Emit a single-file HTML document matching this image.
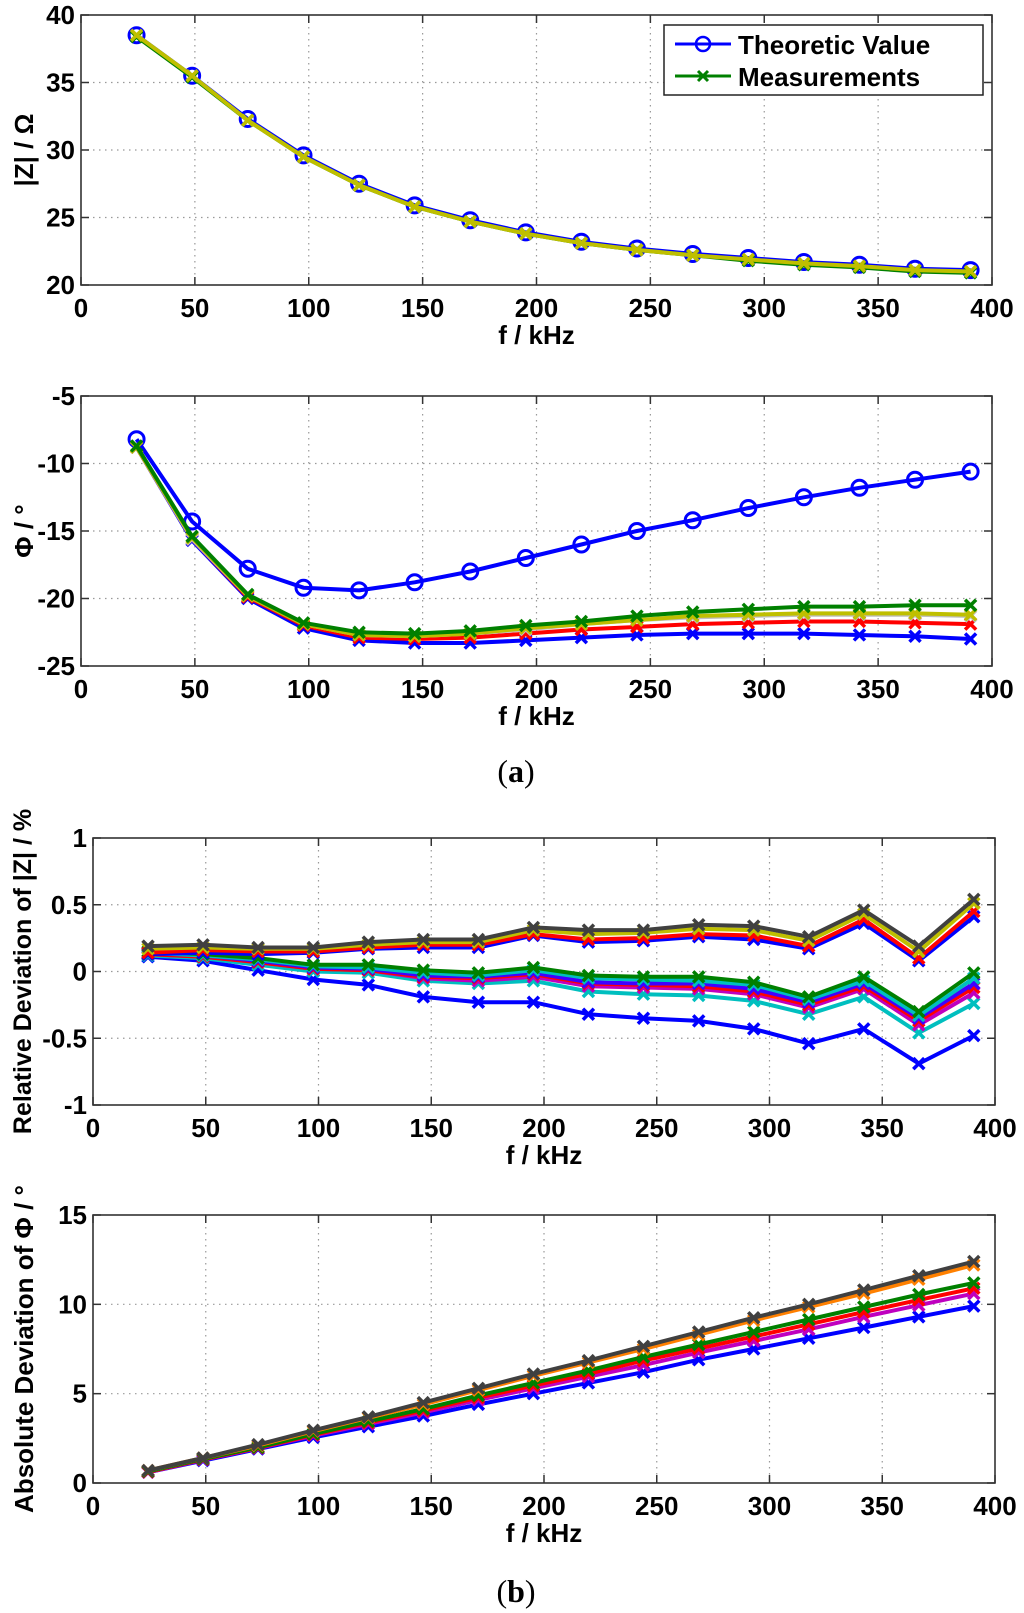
<!DOCTYPE html>
<html><head><meta charset="utf-8"><style>
html,body{margin:0;padding:0;background:#fff}
svg{display:block}
text{font-family:"Liberation Sans",Arial,sans-serif;font-weight:bold;fill:#000}
</style></head><body>
<svg id="fig" width="1024" height="1613" viewBox="0 0 1024 1613" xmlns="http://www.w3.org/2000/svg"></svg>
<script>
const freqs=[24.4,48.8,73.2,97.7,122.1,146.5,170.9,195.3,219.7,244.1,268.6,293.0,317.4,341.8,366.2,390.6];
const xTicks=[0,50,100,150,200,250,300,350,400];
const zTheo=[38.5,35.5,32.3,29.6,27.5,25.9,24.8,23.9,23.2,22.7,22.3,22.0,21.7,21.5,21.2,21.1];
const zMeasA=[38.5,35.5,32.2,29.5,27.4,25.8,24.7,23.8,23.1,22.6,22.2,21.9,21.6,21.4,21.1,21.0];
const zMeasB=[38.4,35.4,32.2,29.5,27.4,25.8,24.7,23.8,23.1,22.6,22.2,21.8,21.5,21.3,21.0,20.9];
const zTicks=[20,25,30,35,40];
const phTheo=[-8.2,-14.3,-17.8,-19.2,-19.4,-18.8,-18.0,-17.0,-16.0,-15.0,-14.2,-13.3,-12.5,-11.8,-11.2,-10.6];
const phBlue=[-8.8,-15.7,-20.0,-22.2,-23.1,-23.3,-23.3,-23.1,-22.9,-22.7,-22.6,-22.6,-22.6,-22.7,-22.8,-23.0];
const phRed=[-8.8,-15.6,-19.9,-22.0,-22.9,-23.0,-22.9,-22.6,-22.3,-22.1,-21.9,-21.8,-21.7,-21.7,-21.8,-21.9];
const phGray=[-8.8,-15.6,-19.8,-21.9,-22.7,-22.8,-22.6,-22.3,-21.9,-21.6,-21.4,-21.3,-21.2,-21.2,-21.2,-21.3];
const phGreen=[-8.7,-15.4,-19.7,-21.8,-22.5,-22.6,-22.4,-22.0,-21.7,-21.3,-21.0,-20.8,-20.6,-20.6,-20.5,-20.5];
const phYellow=[-8.8,-15.5,-19.8,-21.9,-22.7,-22.8,-22.6,-22.2,-21.9,-21.6,-21.3,-21.2,-21.1,-21.1,-21.1,-21.2];
const phTicks=[-25,-20,-15,-10,-5];
const rdBlack=[0.19,0.20,0.18,0.18,0.22,0.24,0.24,0.33,0.31,0.31,0.35,0.34,0.26,0.46,0.19,0.54];
const rdYellow=[0.17,0.18,0.17,0.17,0.20,0.22,0.22,0.31,0.28,0.29,0.32,0.31,0.23,0.43,0.15,0.51];
const rdRed=[0.14,0.16,0.15,0.15,0.18,0.20,0.20,0.28,0.24,0.25,0.28,0.27,0.19,0.39,0.10,0.45];
const rdBlue=[0.13,0.14,0.13,0.14,0.17,0.18,0.18,0.27,0.22,0.23,0.26,0.24,0.17,0.36,0.08,0.41];
const rdGreen=[0.15,0.13,0.10,0.05,0.05,0.01,-0.01,0.03,-0.03,-0.04,-0.04,-0.08,-0.19,-0.04,-0.30,-0.01];
const rdCyan2=[0.14,0.12,0.09,0.04,0.03,-0.01,-0.03,0.01,-0.05,-0.06,-0.07,-0.10,-0.21,-0.07,-0.33,-0.05];
const rdPurple=[0.14,0.12,0.08,0.03,0.02,-0.03,-0.04,-0.01,-0.08,-0.09,-0.09,-0.13,-0.23,-0.09,-0.35,-0.09];
const rdRed2=[0.13,0.11,0.07,0.02,0.01,-0.04,-0.05,-0.02,-0.09,-0.10,-0.11,-0.15,-0.25,-0.11,-0.37,-0.12];
const rdMagenta=[0.13,0.11,0.07,0.02,0.01,-0.05,-0.07,-0.04,-0.11,-0.12,-0.13,-0.17,-0.27,-0.13,-0.40,-0.16];
const rdCyan=[0.12,0.10,0.05,0.00,-0.01,-0.07,-0.09,-0.07,-0.15,-0.17,-0.18,-0.22,-0.32,-0.19,-0.46,-0.24];
const rdLow=[0.11,0.08,0.01,-0.06,-0.10,-0.19,-0.23,-0.23,-0.32,-0.35,-0.37,-0.43,-0.54,-0.43,-0.69,-0.48];
const rdTicks=[-1,-0.5,0,0.5,1];
const adBlack=[0.7,1.4,2.15,2.95,3.7,4.5,5.3,6.1,6.85,7.65,8.45,9.25,10.0,10.8,11.6,12.4];
const adOrange=[0.7,1.4,2.1,2.9,3.65,4.4,5.2,6.0,6.75,7.5,8.3,9.1,9.85,10.6,11.4,12.2];
const adGreen=[0.65,1.35,2.0,2.75,3.45,4.15,4.9,5.6,6.3,7.05,7.75,8.45,9.15,9.85,10.55,11.2];
const adRed=[0.62,1.32,1.97,2.7,3.38,4.05,4.78,5.45,6.12,6.85,7.53,8.2,8.88,9.57,10.25,10.9];
const adMagenta=[0.6,1.3,1.95,2.65,3.3,3.95,4.65,5.3,5.95,6.6,7.3,7.95,8.6,9.3,9.95,10.6];
const adBlue=[0.6,1.25,1.9,2.55,3.15,3.75,4.4,5.0,5.6,6.2,6.9,7.5,8.1,8.7,9.3,9.9];
const adTicks=[0,5,10,15];

const NS="http://www.w3.org/2000/svg";
const svg=document.getElementById('fig');
function mk(tag,attrs,parent){const e=document.createElementNS(NS,tag);for(const k in attrs)e.setAttribute(k,attrs[k]);(parent||svg).appendChild(e);return e;}
function txt(s,x,y,size,anchor,parent,rot){const t=mk('text',{x:x,y:y,'font-size':size,'text-anchor':anchor||'middle'},parent);if(rot)t.setAttribute('transform','rotate(-90 '+x+' '+y+')');t.textContent=s;return t;}

function plot(o){
  const g=mk('g',{});
  
  
  const X=v=>o.x0+(v-0)/(400)*(o.x1-o.x0);
  const Y=v=>o.yb+(v-o.ymin)/(o.ymax-o.ymin)*(o.yt-o.yb);
  xTicks.forEach(t=>{if(t>0&&t<400)mk('line',{x1:X(t),x2:X(t),y1:o.yt,y2:o.yb,stroke:'#999','stroke-dasharray':'1.5 4.5','stroke-width':1.2},g);});
  o.yTicks.forEach(t=>{if(t>o.ymin&&t<o.ymax)mk('line',{x1:o.x0,x2:o.x1,y1:Y(t),y2:Y(t),stroke:'#999','stroke-dasharray':'1.5 4.5','stroke-width':1.2},g);});
  xTicks.forEach(t=>{mk('line',{x1:X(t),x2:X(t),y1:o.yb,y2:o.yb-8,stroke:'#333','stroke-width':1.5},g);mk('line',{x1:X(t),x2:X(t),y1:o.yt,y2:o.yt+8,stroke:'#333','stroke-width':1.5},g);
    const l=txt(String(t),X(t),o.yb+32,26,'middle',g);});
  o.yTicks.forEach(t=>{mk('line',{x1:o.x0,x2:o.x0+8,y1:Y(t),y2:Y(t),stroke:'#333','stroke-width':1.5},g);mk('line',{x1:o.x1,x2:o.x1-8,y1:Y(t),y2:Y(t),stroke:'#333','stroke-width':1.5},g);
    const l=txt(String(t),o.x0-6,Y(t)+9,26,'end',g);});
  const box=mk('rect',{x:o.x0,y:o.yt,width:o.x1-o.x0,height:o.yb-o.yt,fill:'none',stroke:'#333','stroke-width':1.6},g);
  
  
  o.series.forEach(s=>{
    const sg=mk('g',{},g);
    
    
    const pts=s.data.map((v,i)=>X(freqs[i]).toFixed(1)+','+Y(v).toFixed(1)).join(' ');
    mk('polyline',{points:pts,fill:'none',stroke:s.color,'stroke-width':s.w||4,'stroke-linejoin':'round'},sg);
    s.data.forEach((v,i)=>{const cx=X(freqs[i]),cy=Y(v);
      if(s.marker==='o')mk('circle',{cx:cx,cy:cy,r:7.5,fill:'none',stroke:s.color,'stroke-width':3},sg);
      else{const d=5.5;mk('path',{d:`M${cx-d},${cy-d}L${cx+d},${cy+d}M${cx-d},${cy+d}L${cx+d},${cy-d}`,stroke:s.color,'stroke-width':3.5},sg);}
    });
  });
  const xl=txt('f / kHz',(o.x0+o.x1)/2,o.yb+59,26,'middle',g);
  
  
  const yl=txt(o.ylabel,o.ylx,(o.yt+o.yb)/2,o.ylsize||26,'middle',g,true);
  
  
  return g;
}

plot({name:'impedance-magnitude-chart',x0:81,x1:992,yt:15,yb:285,ymin:20,ymax:40,yTicks:zTicks,ylabel:'|Z| / Ω',ylx:33,
 series:[{name:'theoretic-series',data:zTheo,color:'#0000ff',marker:'o'},
 {name:'measurement-green',data:zMeasB,color:'#008000',marker:'x'},
 {name:'measurement-yellow',data:zMeasA,color:'#bfbf00',marker:'x'}]});
plot({name:'phase-chart',x0:81,x1:992,yt:396,yb:666,ymin:-25,ymax:-5,yTicks:phTicks,ylabel:'Φ / °',ylx:33,
 series:[{name:'theoretic-series',data:phTheo,color:'#0000ff',marker:'o'},
 {name:'measurement-blue',data:phBlue,color:'#0000ff',marker:'x'},
 {name:'measurement-red',data:phRed,color:'#ff0000',marker:'x'},
 {name:'measurement-gray',data:phGray,color:'#bfbfbf',marker:'x'},
 {name:'measurement-yellow',data:phYellow,color:'#bfbf00',marker:'x'},
 {name:'measurement-green',data:phGreen,color:'#008000',marker:'x'}]});
plot({name:'relative-deviation-chart',x0:93,x1:995,yt:838,yb:1105,ymin:-1,ymax:1,yTicks:rdTicks,ylabel:'Relative Deviation of |Z| / %',ylx:31,ylsize:25,
 series:[{name:'rel-low-blue',data:rdLow,color:'#0000ff',marker:'x'},
 {name:'rel-cyan',data:rdCyan,color:'#00bfbf',marker:'x'},
 {name:'rel-magenta',data:rdMagenta,color:'#bf00bf',marker:'x'},
 {name:'rel-red-2',data:rdRed2,color:'#ff0000',marker:'x'},
 {name:'rel-purple',data:rdPurple,color:'#4000ff',marker:'x'},
 {name:'rel-cyan-2',data:rdCyan2,color:'#00bfbf',marker:'x'},
 {name:'rel-green',data:rdGreen,color:'#008000',marker:'x'},
 {name:'rel-blue',data:rdBlue,color:'#0000ff',marker:'x'},
 {name:'rel-red',data:rdRed,color:'#ff0000',marker:'x'},
 {name:'rel-yellow',data:rdYellow,color:'#bfbf00',marker:'x'},
 {name:'rel-black',data:rdBlack,color:'#404040',marker:'x'}]});
plot({name:'absolute-deviation-chart',x0:93,x1:995,yt:1215,yb:1483,ymin:0,ymax:15,yTicks:adTicks,ylabel:'Absolute Deviation of Φ / °',ylx:33,
 series:[{name:'abs-blue',data:adBlue,color:'#0000ff',marker:'x'},
 {name:'abs-magenta',data:adMagenta,color:'#bf00bf',marker:'x'},
 {name:'abs-red',data:adRed,color:'#ff0000',marker:'x'},
 {name:'abs-green',data:adGreen,color:'#008000',marker:'x'},
 {name:'abs-orange',data:adOrange,color:'#ff8000',marker:'x'},
 {name:'abs-black',data:adBlack,color:'#404040',marker:'x'}]});

const lg=mk('g',{});


mk('rect',{x:664,y:25,width:319,height:70,fill:'#fff',stroke:'#222','stroke-width':1.5},lg);
mk('line',{x1:675,x2:731,y1:44,y2:44,stroke:'#0000ff','stroke-width':3},lg);
mk('circle',{cx:703,cy:44,r:7,fill:'none',stroke:'#0000ff','stroke-width':2.5},lg);
mk('line',{x1:675,x2:731,y1:76,y2:76,stroke:'#008000','stroke-width':3},lg);
mk('path',{d:'M698,71L708,81M698,81L708,71',stroke:'#008000','stroke-width':3},lg);
const l1=txt('Theoretic Value',738,54,26,'start',lg);


const l2=txt('Measurements',738,86,26,'start',lg);



const ca=mk('text',{x:516,y:782,'font-size':32,'text-anchor':'middle'});


ca.style.fontFamily='"Liberation Serif",serif';ca.style.fontWeight='normal';
ca.innerHTML='(<tspan font-weight="bold">a</tspan>)';
const cb=mk('text',{x:516,y:1602,'font-size':32,'text-anchor':'middle'});


cb.style.fontFamily='"Liberation Serif",serif';cb.style.fontWeight='normal';
cb.innerHTML='(<tspan font-weight="bold">b</tspan>)';
</script>
</body></html>
